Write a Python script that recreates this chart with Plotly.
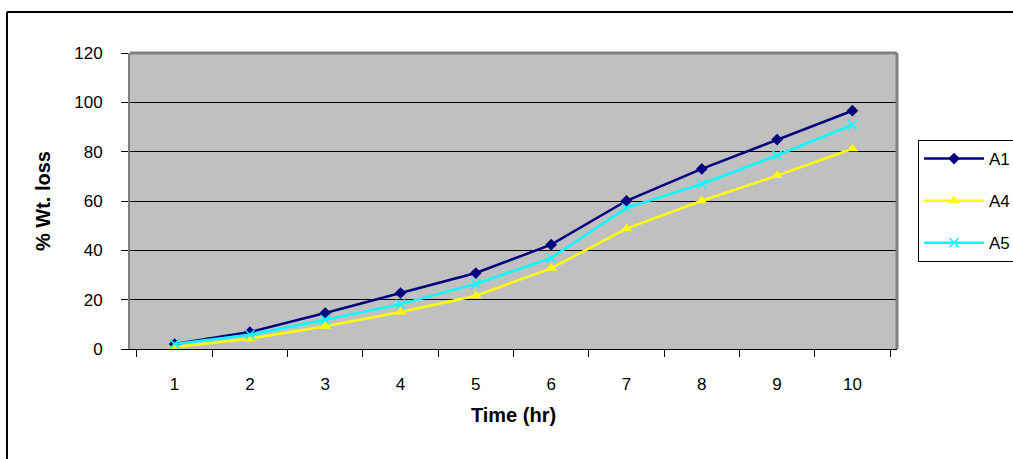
import plotly.graph_objects as go

time_hr = ["1", "2", "3", "4", "5", "6", "7", "8", "9", "10"]
a1 = [2.0, 6.9, 14.6, 22.7, 30.8, 42.3, 60.1, 73.0, 84.9, 96.6]
a4 = [0.8, 4.2, 9.2, 15.0, 21.6, 32.7, 48.8, 60.1, 70.3, 81.2]
a5 = [2.0, 5.8, 11.9, 18.2, 26.4, 36.9, 57.2, 66.9, 78.5, 90.9]
y_ticks = [0, 20, 40, 60, 80, 100, 120]

FONT = "Liberation Sans, Arial, sans-serif"

fig = go.Figure()
fig.add_trace(go.Scatter(x=time_hr, y=a1, name="A1", mode="lines+markers",
                         line=dict(color="#000080", width=2.5),
                         marker=dict(symbol="diamond", size=9, color="#000080"),
                         legendgroup="g1"))
fig.add_trace(go.Scatter(x=time_hr, y=a4, name="A4", mode="lines+markers",
                         line=dict(color="#FFFF00", width=2.5),
                         marker=dict(symbol="triangle-up", size=10, color="#FFFF00"),
                         legendgroup="g2"))
fig.add_trace(go.Scatter(x=time_hr, y=a5, name="A5", mode="lines+markers",
                         line=dict(color="#00FFFF", width=2.5),
                         marker=dict(symbol="x-thin", size=9, color="#00FFFF",
                                     line=dict(color="#00FFFF", width=1.5)),
                         legendgroup="g3"))

fig.update_layout(
    width=1013, height=459,
    margin=dict(l=130, r=116, t=53, b=110, autoexpand=False),
    paper_bgcolor="white",
    plot_bgcolor="#C0C0C0",
    font=dict(family=FONT, color="black", size=17),
    showlegend=True,
    legend=dict(x=1.0274, xanchor="left", y=0.706, yanchor="top",
                bgcolor="white", bordercolor="black", borderwidth=1,
                font=dict(size=17), traceorder="grouped", tracegroupgap=17,
                itemwidth=60),
    xaxis=dict(type="category", tickson="boundaries", ticks="outside", ticklen=7,
               tickcolor="black", showline=True, linecolor="black", linewidth=1,
               showgrid=False, ticklabelstandoff=20, tickfont=dict(size=17),
               automargin=False,
               title=dict(text="<b>Time (hr)</b>", font=dict(size=20), standoff=14)),
    yaxis=dict(range=[0, 120], tickvals=y_ticks, ticks="outside", ticklen=7,
               tickcolor="black", showline=True, linecolor="#808080", linewidth=2,
               showgrid=True, gridcolor="black", gridwidth=1, zeroline=False,
               ticklabelstandoff=15, tickfont=dict(size=17), automargin=False,
               title=dict(text="<b>% Wt. loss</b>", font=dict(size=20), standoff=18)),
    shapes=[
        dict(type="line", xref="paper", yref="paper", x0=0, x1=1, y0=1, y1=1,
             line=dict(color="#808080", width=3)),
        dict(type="line", xref="paper", yref="paper", x0=1, x1=1, y0=0, y1=1,
             line=dict(color="#808080", width=3)),
        dict(type="line", xref="paper", yref="paper", x0=-0.1604, x1=1.2,
             y0=1.1385, y1=1.1385, line=dict(color="black", width=2)),
        dict(type="line", xref="paper", yref="paper", x0=-0.1604, x1=-0.1604,
             y0=-0.5, y1=1.1385, line=dict(color="black", width=2)),
    ],
)

fig.write_html("out.html")
